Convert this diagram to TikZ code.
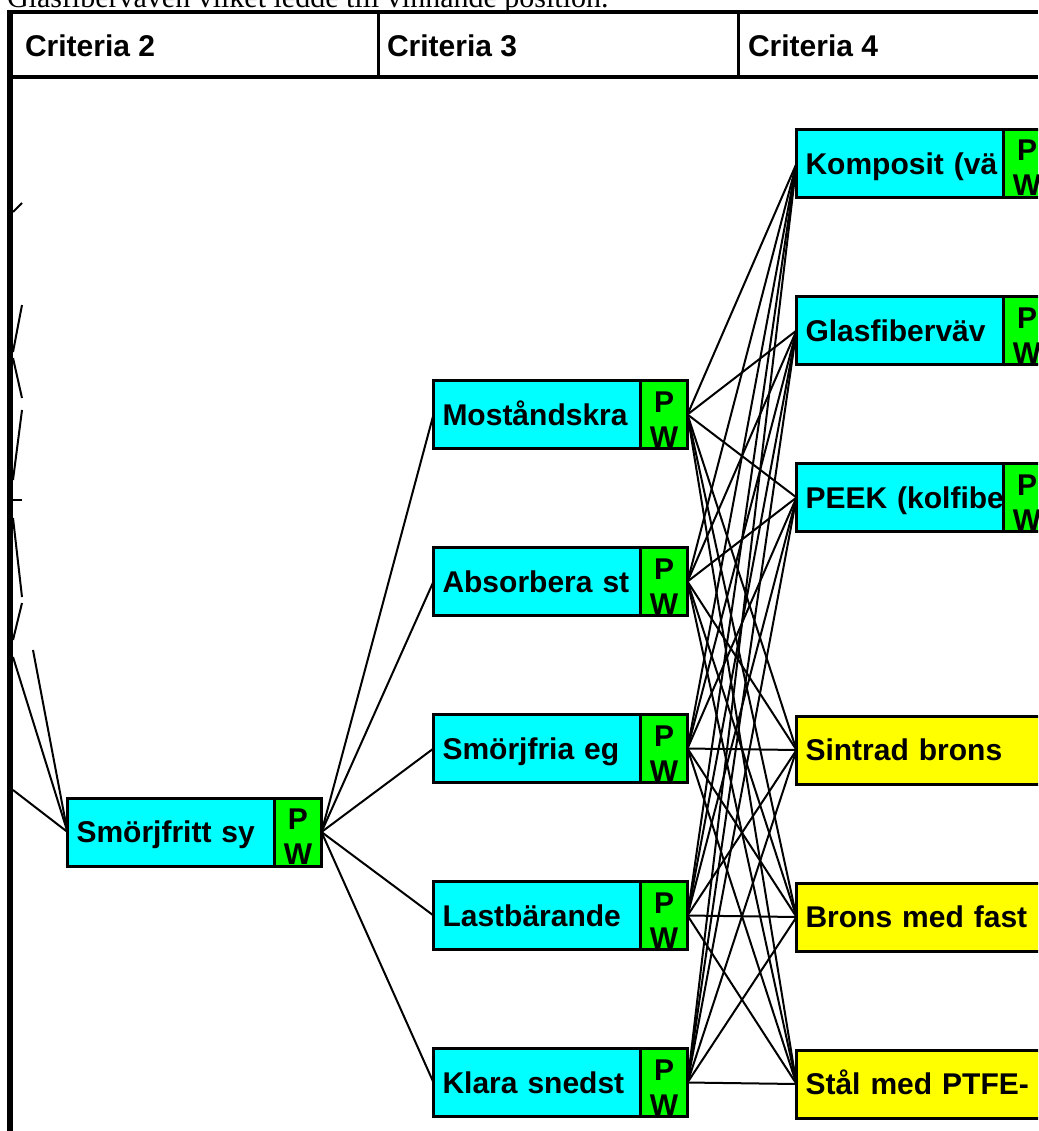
\documentclass[tikz,border=0pt]{standalone}
\usepackage{fontspec}
\setmainfont{Liberation Serif}
\setsansfont{Liberation Sans}
\usetikzlibrary{positioning}

\definecolor{critcyan}{RGB}{0,255,255}
\definecolor{pwgreen}{RGB}{0,255,0}
\definecolor{altyellow}{RGB}{255,255,0}

\begin{document}
\begin{tikzpicture}[x=1pt,y=-1pt,node distance=99pt,
    every node/.style={outer sep=0pt},
    crit/.style={font=\sffamily\bfseries\fontsize{30}{36}\selectfont,inner sep=0pt,anchor=base west},
    box/.style={draw,line width=3pt,fill=critcyan,minimum height=68pt,text width=189pt,align=left,
      inner xsep=9pt,inner ysep=0pt,text height=21.5pt,text depth=0pt,
      font=\sffamily\bfseries\fontsize{30}{36}\selectfont},
    alt/.style={box,fill=altyellow,text width=242pt},
    pw/.style={draw,line width=3pt,fill=pwgreen,minimum width=47pt,minimum height=68pt,inner sep=0pt,
      align=center,text height=65pt,text depth=0pt,font=\sffamily\bfseries\fontsize{30}{35}\selectfont},
    link/.style={line width=2pt}]
  \useasboundingbox (0,0) rectangle (1038,1131);
  \clip (0,0) rectangle (1038,1131);

  % text line above the window
  \node[anchor=base west,inner sep=0pt,font=\fontsize{30}{36}\selectfont] (intro) at (7,8)
    {Glasfiberväven vilket ledde till vinnande position.};

  % window frame and column headers
  \draw[line width=4pt] (7,12) -- (1038,12);
  \draw[line width=3.5pt] (7,77) -- (1038,77);
  \draw[line width=3pt] (378,12) -- (378,77);
  \draw[line width=3pt] (738,12) -- (738,77);
  \draw[line width=6pt] (10,10) -- (10,1131);
  \node[crit] (c2) at (25,57) {Criteria 2};
  \node[crit] (c3) at (387,57) {Criteria 3};
  \node[crit] (c4) at (748,57) {Criteria 4};

  % criteria 2
  \node[box,anchor=west] (smfr) at (67.5,832) {Smörjfritt sy};
  \node[pw,right=0pt of smfr] (smfr-pw) {P\\W};

  % criteria 3
  \node[box,anchor=west] (mot) at (433.5,414.5) {Moståndskra};
  \node[pw,right=0pt of mot] (mot-pw) {P\\W};
  \node[box,below=of mot] (abs) {Absorbera st};
  \node[pw,right=0pt of abs] (abs-pw) {P\\W};
  \node[box,below=of abs] (smo) {Smörjfria eg};
  \node[pw,right=0pt of smo] (smo-pw) {P\\W};
  \node[box,below=of smo] (last) {Lastbärande};
  \node[pw,right=0pt of last] (last-pw) {P\\W};
  \node[box,below=of last] (klara) {Klara snedst};
  \node[pw,right=0pt of klara] (klara-pw) {P\\W};

  % criteria 4
  \node[box,anchor=west] (komp) at (796.5,163.5) {Komposit~(vä};
  \node[pw,right=0pt of komp] (komp-pw) {P\\W};
  \node[box,below=of komp] (glas) {Glasfiberväv};
  \node[pw,right=0pt of glas] (glas-pw) {P\\W};
  \node[box,below=of glas] (peek) {PEEK~(kolfibe};
  \node[pw,right=0pt of peek] (peek-pw) {P\\W};
  \node[alt,anchor=west] (sint) at (796.5,750) {Sintrad brons};
  \node[alt,below=of sint] (brons) {Brons~med~fast};
  \node[alt,below=of brons] (stal) {Stål~med~PTFE-};

  % lines cut by the left edge
  \foreach \n/\ya/\xb/\yb in {1/212/22/203, 2/352/22/305, 3/358/22/398, 4/480/22/410,
      5/500/22/500, 6/518/22/597, 7/640/22/603} {
    \coordinate (cut\n a) at (13,\ya);
    \coordinate (cut\n b) at (\xb,\yb);
    \draw[link] (cut\n a) -- (cut\n b);
  }
  \coordinate (in1) at (13,657);
  \coordinate (in2) at (33,650);
  \coordinate (in3) at (13,790);
  \foreach \c in {in1,in2,in3}
    \draw[link] (\c) -- (smfr.west);

  % links
  \foreach \dst in {mot,abs,smo,last,klara}
    \draw[link] (smfr-pw.east) -- (\dst.west);
  \foreach \src in {mot,abs,smo,last,klara}
    \foreach \dst in {komp,glas,peek,sint,brons,stal}
      \draw[link] (\src-pw.east) -- (\dst.west);
\end{tikzpicture}
\end{document}
